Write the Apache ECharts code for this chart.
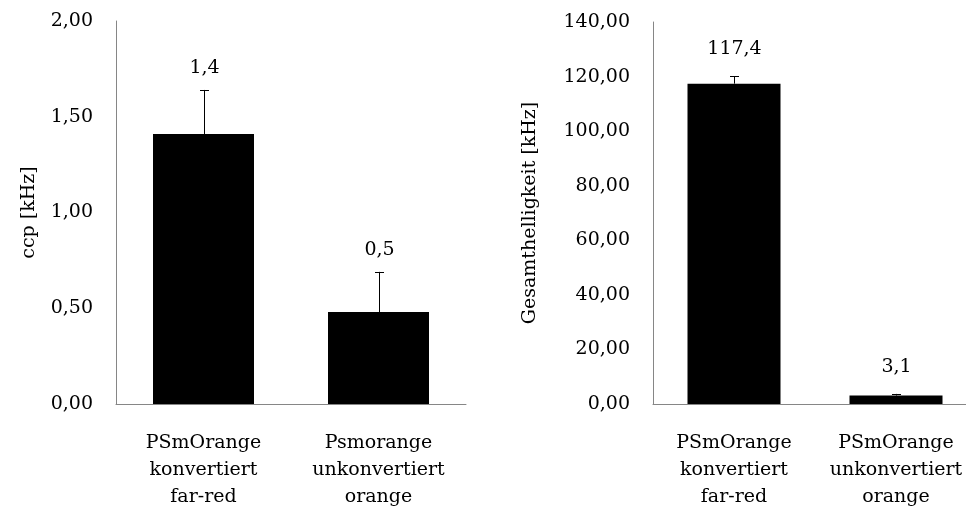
<!DOCTYPE html>
<html>
<head>
<meta charset="utf-8">
<script src="https://cdn.jsdelivr.net/npm/echarts@6/dist/echarts.min.js"></script>
<style>html,body{margin:0;padding:0;background:#fff;overflow:hidden;width:966px;height:511px}#c{width:1000px;height:511px}</style>
</head>
<body>
<div id="c"></div>
<script>
var categoriesLeft = ['PSmOrange\nkonvertiert\nfar-red', 'Psmorange\nunkonvertiert\norange'];
var ccpValues = [1.41, 0.48];
var ccpErrors = [0.23, 0.21];
var ccpLabels = ['1,4', '0,5'];

var categoriesRight = ['PSmOrange\nkonvertiert\nfar-red', 'PSmOrange\nunkonvertiert\norange'];
var brightValues = [117.4, 3.1];
var brightErrors = [2.8, 0.6];
var brightLabels = ['117,4', '3,1'];

var FONT = 'DejaVu Serif';
var chart = echarts.init(document.getElementById('c'), null, {renderer: 'canvas'});

function errRender(labels, offset) {
  return function (params, api) {
    var x = api.value(0), v = api.value(1), e = api.value(2);
    var base = api.coord([x, v]);
    var top = api.coord([x, v + e]);
    var cx = Math.round(base[0]) + 0.5;
    var children = [
      {type: 'line', shape: {x1: cx, y1: base[1], x2: cx, y2: top[1]}, style: {stroke: '#000', lineWidth: 1}},
      {type: 'line', shape: {x1: cx - 4.5, y1: Math.round(top[1]) + 0.5, x2: cx + 4.5, y2: Math.round(top[1]) + 0.5}, style: {stroke: '#000', lineWidth: 1}},
      {type: 'text', x: cx, y: top[1] - offset, style: {text: labels[params.dataIndex], fill: '#000', font: '19px "' + FONT + '"', align: 'center', verticalAlign: 'middle'}}
    ];
    return {type: 'group', children: children};
  };
}

function numFmt(v) { return v.toFixed(2).replace('.', ','); }

var axisLine = {show: true, lineStyle: {color: '#868686', width: 1}};
var labelStyle = {color: '#000', fontFamily: FONT, fontSize: 19};

chart.setOption({
  animation: false,
  grid: [
    {left: 116, top: 21, width: 350, height: 384},
    {left: 653, top: 22, width: 324, height: 383}
  ],
  xAxis: [
    {type: 'category', gridIndex: 0, data: categoriesLeft, axisLine: axisLine, axisTick: {show: false},
     axisLabel: Object.assign({margin: 26, lineHeight: 27, interval: 0}, labelStyle)},
    {type: 'category', gridIndex: 1, data: categoriesRight, axisLine: axisLine, axisTick: {show: false},
     axisLabel: Object.assign({margin: 26, lineHeight: 27, interval: 0}, labelStyle)}
  ],
  yAxis: [
    {type: 'value', gridIndex: 0, min: 0, max: 2, interval: 0.5, axisLine: axisLine, axisTick: {show: false},
     splitLine: {show: false}, axisLabel: Object.assign({margin: 23, formatter: numFmt}, labelStyle),
     name: 'ccp [kHz]', nameLocation: 'middle', nameGap: 77, nameTextStyle: labelStyle},
    {type: 'value', gridIndex: 1, min: 0, max: 140, interval: 20, axisLine: axisLine, axisTick: {show: false},
     splitLine: {show: false}, axisLabel: Object.assign({margin: 23, formatter: numFmt}, labelStyle),
     name: 'Gesamthelligkeit [kHz]', nameLocation: 'middle', nameGap: 113, nameTextStyle: labelStyle}
  ],
  series: [
    {type: 'bar', xAxisIndex: 0, yAxisIndex: 0, data: ccpValues, barWidth: 101, itemStyle: {color: '#000'}},
    {type: 'custom', xAxisIndex: 0, yAxisIndex: 0, renderItem: errRender(ccpLabels, 22),
     data: ccpValues.map(function (v, i) { return [i, v, ccpErrors[i]]; }), z: 5},
    {type: 'bar', xAxisIndex: 1, yAxisIndex: 1, data: brightValues, barWidth: 93, itemStyle: {color: '#000'}},
    {type: 'custom', xAxisIndex: 1, yAxisIndex: 1, renderItem: errRender(brightLabels, 27),
     data: brightValues.map(function (v, i) { return [i, v, brightErrors[i]]; }), z: 5}
  ]
});
</script>
</body>
</html>
